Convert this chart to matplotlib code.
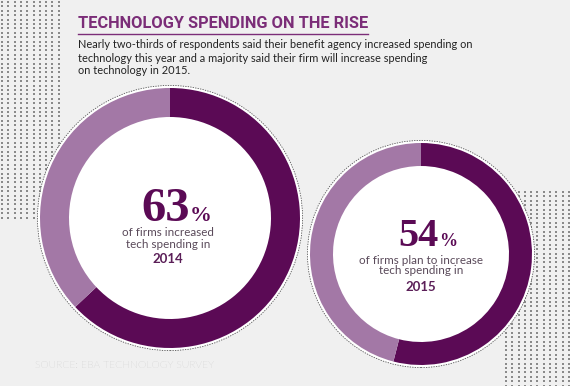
import numpy as np
import matplotlib.pyplot as plt

# data
years = ["2014", "2015"]
shares = [63, 54]
captions = [["of firms increased", "tech spending in"],
            ["of firms plan to increase", "tech spending in"]]
title = "TECHNOLOGY SPENDING ON THE RISE"
subtitle = ["Nearly two-thirds of respondents said their benefit agency increased spending on",
            "technology this year and a majority said their firm will increase spending",
            "on technology in 2015."]
source = "SOURCE: EBA TECHNOLOGY SURVEY"

DARK = "#5b0a55"
LIGHT = "#a378a6"
TITLE_C = "#7b2d78"
BG = "#f0f0f0"
H = 386

fig = plt.figure(figsize=(5.7, 3.86), dpi=100, facecolor=BG)
ax = fig.add_axes([0, 0, 1, 1])
ax.set_facecolor(BG)

# dotted backdrop panels
for x0, x1, y0, y1 in [(2, 62, 0, 220), (506, 570, 190, 386)]:
    gx, gy = np.meshgrid(np.arange(x0, x1, 6.3), np.arange(y0 + 2, y1, 4.4))
    ax.scatter(gx.ravel(), H - gy.ravel(), s=0.9, marker="s", color="#8a8a8a",
               linewidths=0, zorder=0)

# donuts: (cx, cy, outer radius, ring width) in pixel layout
layout = [(170, 218, 130, 29), (421, 254, 111, 23)]
for (cx, cy, r, w), v in zip(layout, shares):
    c = (cx, H - cy)
    ax.add_patch(plt.Circle(c, r + 2.2, color="white", zorder=1, lw=0))
    ax.add_patch(plt.Circle(c, r + 2.6, fill=False, ec="#555555", lw=0.6,
                            ls=(0, (1.5, 1.5)), zorder=1))
    ax.pie([v, 100 - v], radius=r, center=c, startangle=90, counterclock=False,
           colors=[DARK, LIGHT], wedgeprops=dict(width=w, linewidth=0), frame=True)

# centre labels
centre_txt = [
    dict(x=168, big=221, pctx=190, cap=[233, 244], yr=259, bs=35, cs=8.4),
    dict(x=421, big=246, pctx=439, cap=[261, 271], yr=287, bs=29, cs=8.4),
]
for t, v, cap, yr in zip(centre_txt, shares, captions, years):
    ax.text(t["pctx"], H - t["big"], str(v), ha="right", va="baseline",
            fontsize=t["bs"], fontweight="bold", family="Liberation Serif", color=DARK)
    ax.text(t["pctx"], H - t["big"], "%", ha="left", va="baseline",
            fontsize=t["bs"] * 0.45, fontweight="bold", family="Liberation Serif", color=DARK)
    for line, y in zip(cap, t["cap"]):
        ax.text(t["x"], H - y, line, ha="center", va="center", fontsize=t["cs"],
                family="Lato", color="#5a4a5a")
    ax.text(t["x"], H - t["yr"], yr, ha="center", va="center", fontsize=9.5,
            fontweight="bold", family="Lato", color="#5b1f58")

# header
tt = ax.text(78, H - 23, title, ha="left", va="center", fontsize=14,
             fontweight="bold", family="Roboto", color=TITLE_C)
subs = [ax.text(78, H - (45 + i * 13), line, ha="left", va="center", fontsize=10,
                family="Lato", color="#222222") for i, line in enumerate(subtitle)]
ax.text(35, H - 366, source, ha="left", va="center", fontsize=7.5,
        family="Lato", fontweight="light", color="#b0b0b0")

ax.set_xlim(0, 570)
ax.set_ylim(0, H)
ax.set_aspect("auto")
ax.axis("off")

# fit title and subtitle widths to the reference layout
fig.canvas.draw()
r = fig.canvas.get_renderer()
tt.set_fontsize(14 * 292 / tt.get_window_extent(r).width)
k = 395 / subs[0].get_window_extent(r).width
for s in subs:
    s.set_fontsize(10 * k)
fig.canvas.draw()

# underline under the title, same width as the text
bb = tt.get_window_extent().transformed(ax.transData.inverted())
ax.plot([bb.x0, bb.x1], [H - 33.5, H - 33.5], color=TITLE_C, lw=1.0)

fig.savefig("out.png", dpi=100, facecolor=BG)
